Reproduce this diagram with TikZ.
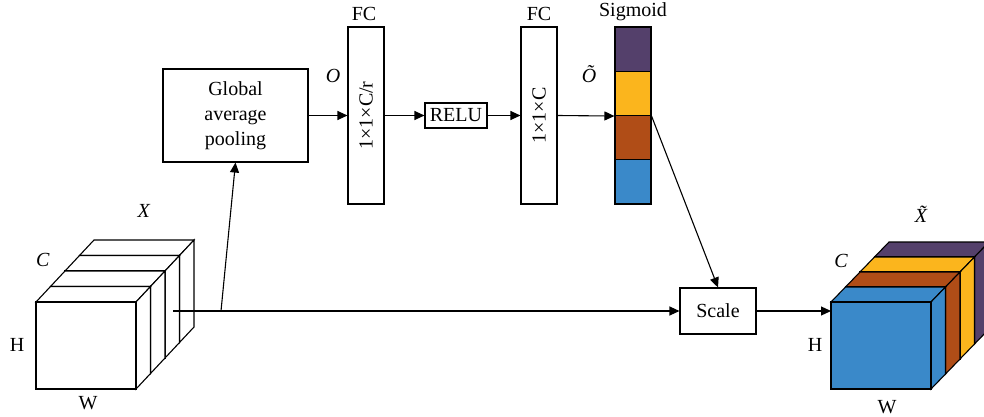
\documentclass[tikz,border=0pt]{standalone}
\usepackage{fontspec}
\setmainfont{Liberation Serif}
\usetikzlibrary{arrows.meta}

\definecolor{sepurple}{HTML}{54406B}
\definecolor{seyellow}{HTML}{FBB51D}
\definecolor{sebrown}{HTML}{B04D17}
\definecolor{seblue}{HTML}{3A89C9}

\begin{document}
\begin{tikzpicture}[x=1pt, y=-1pt, line width=1.1pt,
    every node/.style={font=\fontsize{20}{25}\selectfont},
    blk/.style={draw, fill=white, inner sep=0pt, align=center},
    arr/.style={-{Triangle[length=10pt,width=9pt]}}]
    \useasboundingbox (0,0) rectangle (984,417);
    \clip (0,0) rectangle (984,417);

    % Входной тензор X (слои по C)
    \foreach \k in {3,2,1,0} {
        \begin{scope}[shift={(\k*14.5,-\k*15.5)}]
            \filldraw[fill=white] (36,302) -- (50.5,286.5) -- (150.5,286.5) -- (136,302) -- cycle;
            \filldraw[fill=white] (136,302) -- (150.5,286.5) -- (150.5,373.5) -- (136,389) -- cycle;
            \filldraw[fill=white] (36,302) rectangle (136,389);
        \end{scope}
    }
    \node (lblX) at (144,211) {\textit{X}};
    \node (lblC) at (43,260) {\textit{C}};
    \node (lblH) at (17,345) {H};
    \node (lblW) at (88,403) {W};

    % Выходной тензор (слои окрашены весами)
    \foreach \k/\c in {3/sepurple,2/seyellow,1/sebrown,0/seblue} {
        \begin{scope}[shift={(\k*14.5,-\k*15)}]
            \filldraw[fill=\c] (831,302) -- (845.5,287) -- (945.5,287) -- (931,302) -- cycle;
            \filldraw[fill=\c] (931,302) -- (945.5,287) -- (945.5,374) -- (931,389) -- cycle;
            \filldraw[fill=\c] (831,302) rectangle (931,389);
        \end{scope}
    }
    \node (lblXt) at (925,214) {\textit{\~X}};
    \node (lblCt) at (841,261) {\textit{C}};
    \node (lblHt) at (815,345) {H};
    \node (lblWt) at (887,407) {W};

    % Блоки
    \node[blk, minimum width=145pt, minimum height=93pt] (gap) at (235.5,115.5) {Global\\average\\pooling};
    \node[blk, minimum width=36pt, minimum height=177pt] (fc1) at (366,115.5) {};
    \node[rotate=90] (fc1txt) at (fc1) {1×1×C/r};
    \node (fc1lbl) at (364,14) {FC};
    \node[blk, minimum width=62pt, minimum height=25pt] (relu) at (456,115.5) {RELU};
    \node[blk, minimum width=36pt, minimum height=177pt] (fc2) at (539,115.5) {};
    \node[rotate=90] (fc2txt) at (fc2) {1×1×C};
    \node (fc2lbl) at (539,14) {FC};
    \foreach \c [count=\i] in {sepurple,seyellow,sebrown,seblue}
        \node[blk, fill=\c, minimum width=36pt, minimum height=44.25pt] (s\i) at (633,{27+44.25*(\i-0.5)}) {};
    \node (siglbl) at (633,12) {Sigmoid};
    \node[blk, minimum width=76pt, minimum height=46pt] (scale) at (718,311) {Scale};

    \node (lblO) at (333,76) {\textit{O}};
    \node (lblOt) at (589,74) {\textit{\~O}};

    % Соединения
    \coordinate (xin) at (173,311);
    \coordinate (br) at (221,311);
    \coordinate (xout) at (831,311);
    \draw[arr] (xin) -- (scale.west);
    \draw[arr] (br) -- (gap.south);
    \draw[arr] (gap.east) -- (fc1.west);
    \draw[arr] (fc1.east) -- (relu.west);
    \draw[arr] (relu.east) -- (fc2.west);
    \draw[arr] (fc2.east) -- (s2.south west);
    \draw[arr] (s2.south east) -- (scale.north);
    \draw[arr] (scale.east) -- (xout);
\end{tikzpicture}
\end{document}
